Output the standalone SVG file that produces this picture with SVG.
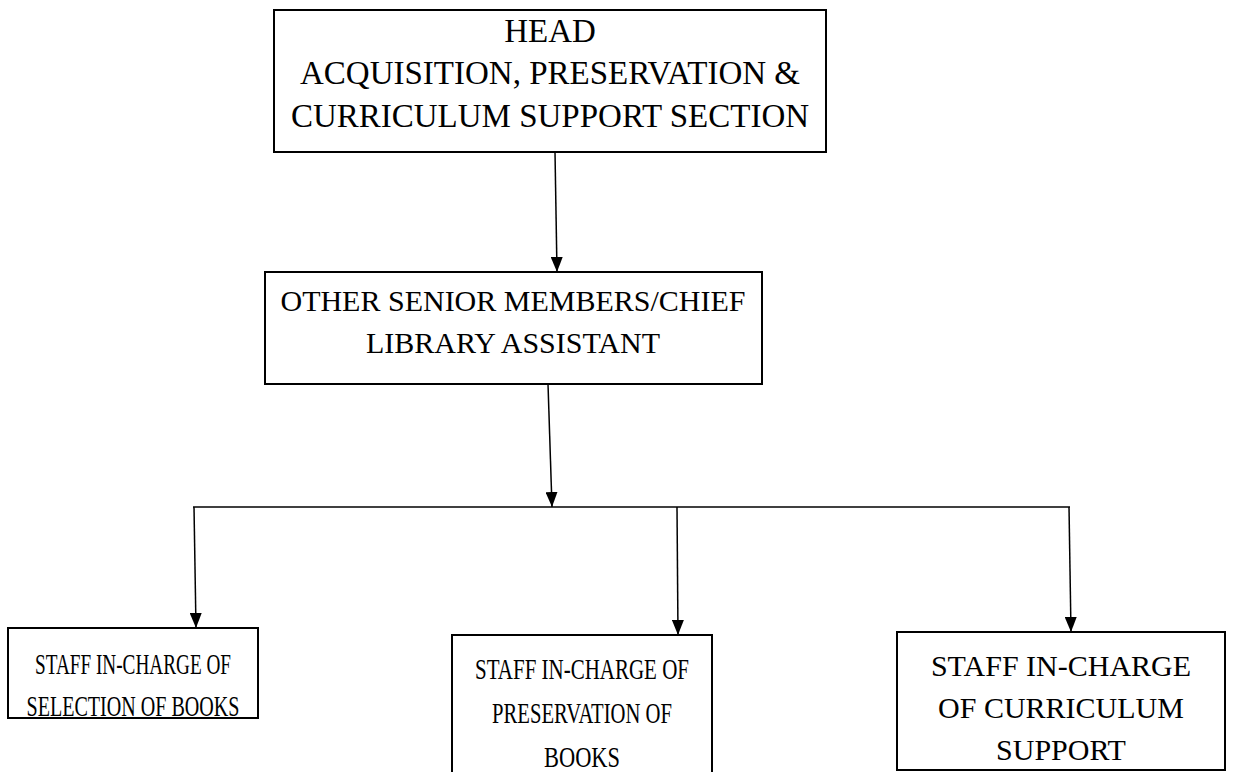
<svg xmlns="http://www.w3.org/2000/svg" width="1236" height="772" viewBox="0 0 1236 772">
<style>
.box{fill:#fff;stroke:#000;stroke-width:2}
.t{font-family:"Liberation Serif","Times New Roman",serif;font-size:30px;fill:#000;text-anchor:middle}
.big{font-size:33px}
.c{stroke:#000;stroke-width:1.5;fill:none}
</style>
<defs>
<marker id="ah" markerWidth="15" markerHeight="12" refX="15" refY="6" orient="auto" markerUnits="userSpaceOnUse" viewBox="0 0 15 12">
<path d="M0,0 L15,6 L0,12 Z" fill="#000"/>
</marker>
</defs>
<g id="head">
<rect class="box" x="274" y="10" width="552" height="142"/>
<text class="t big" x="550" y="42">HEAD</text>
<text class="t big" x="550" y="84">ACQUISITION, PRESERVATION &amp;</text>
<text class="t big" x="550" y="127">CURRICULUM SUPPORT SECTION</text>
</g>
<g id="senior">
<rect class="box" x="265" y="272" width="497" height="112"/>
<text class="t" x="513" y="311">OTHER SENIOR MEMBERS/CHIEF</text>
<text class="t" x="513" y="353">LIBRARY ASSISTANT</text>
</g>
<g id="selection">
<rect class="box" x="8" y="628" width="250" height="90"/>
<text class="t" x="133" y="674" textLength="196" lengthAdjust="spacingAndGlyphs">STAFF IN-CHARGE OF</text>
<text class="t" x="133" y="716" textLength="213" lengthAdjust="spacingAndGlyphs">SELECTION OF BOOKS</text>
</g>
<g id="preservation">
<rect class="box" x="452" y="635" width="260" height="150"/>
<text class="t" x="582" y="679" textLength="214" lengthAdjust="spacingAndGlyphs">STAFF IN-CHARGE OF</text>
<text class="t" x="582" y="723" textLength="180" lengthAdjust="spacingAndGlyphs">PRESERVATION OF</text>
<text class="t" x="582" y="767" textLength="76" lengthAdjust="spacingAndGlyphs">BOOKS</text>
</g>
<g id="curriculum">
<rect class="box" x="897" y="632" width="328" height="138"/>
<text class="t" x="1061" y="676">STAFF IN-CHARGE</text>
<text class="t" x="1061" y="718">OF CURRICULUM</text>
<text class="t" x="1061" y="760">SUPPORT</text>
</g>
<g id="connectors">
<line class="c" x1="555" y1="152" x2="557" y2="272" marker-end="url(#ah)"/>
<line class="c" x1="548" y1="384" x2="552" y2="507" marker-end="url(#ah)"/>
<line class="c" x1="193" y1="507" x2="1070" y2="507"/>
<line class="c" x1="194" y1="507" x2="196" y2="628" marker-end="url(#ah)"/>
<line class="c" x1="677" y1="507" x2="678" y2="635" marker-end="url(#ah)"/>
<line class="c" x1="1069" y1="507" x2="1071" y2="632" marker-end="url(#ah)"/>
</g>
</svg>
